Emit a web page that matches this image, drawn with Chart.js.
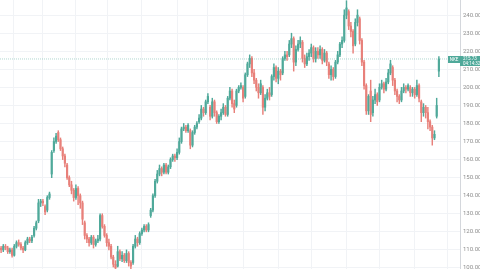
<!DOCTYPE html>
<html>
<head>
<meta charset="utf-8">
<script src="https://cdn.jsdelivr.net/npm/chart.js@4"></script>
<style>
  html, body { margin: 0; padding: 0; background: #fff; overflow: hidden; }
</style>
</head>
<body>
<canvas id="chart" width="480" height="269"></canvas>
<script>
// OHLC, one candle per session
const opens = [
  111,110,112,111,109,110,107,112,114,113,
  111,110,114,116,115,118,122,126,136,137,
  134,132,139,152,165,170,175,171,166,162,
  157,150,146,143,139,144,140,136,125,118,
  116,114,117,113,115,116,129,123,118,114,
  112,106,102,101,109,105,107,104,108,103,
  103,112,116,114,119,121,123,121,129,132,
  140,148,152,155,153,157,153,156,160,162,
  161,164,170,177,178,176,176,168,175,178,
  181,183,188,186,192,189,184,192,186,181,
  184,186,189,185,194,198,191,190,198,200,
  200,195,207,213,216,208,204,200,197,200,
  189,194,197,196,206,211,205,209,208,216,
  218,218,224,227,214,221,224,225,216,213,
  217,219,222,216,220,218,221,215,219,213,
  207,210,206,214,218,224,226,240,242,234,
  231,224,236,238,226,214,201,187,198,186,
  193,196,193,200,202,199,203,208,211,204,
  198,195,193,198,200,199,200,197,199,196,
  201,192,186,189,186,181,178,172,184,209
];
const closes = [
  110,112,111,109,110,107,112,114,113,111,
  110,114,116,115,117,122,125,136,137,136,
  131,139,141,164,170,173,171,166,162,158,
  150,146,143,139,144,140,136,127,118,116,
  114,117,113,115,116,129,123,118,114,112,
  106,102,100,109,105,107,104,108,103,101,
  112,116,114,119,121,123,121,124,132,140,
  148,152,155,153,157,153,156,160,162,161,
  164,170,177,178,176,179,168,175,178,180,
  183,188,186,192,195,184,192,186,181,184,
  186,189,185,194,198,191,188,198,200,201,
  194,207,213,216,208,204,200,197,202,189,
  194,197,195,206,211,205,209,207,216,218,
  217,224,227,214,221,224,226,216,213,217,
  219,222,216,220,218,221,215,219,214,207,
  210,206,214,218,224,226,240,244,234,231,
  223,236,240,226,214,201,187,195,185,193,
  196,192,200,202,199,203,208,213,204,198,
  195,193,198,200,199,201,197,199,196,201,
  194,186,189,186,181,178,172,174,190,215.73
];
const highs = [
  112,113,113,112,111,111,113,115,115.5,114,
  112,115,117,117,118,123,126,138,138,138,
  135,140,142,165,172,174.5,176,172,167,163,
  158,151,148,144,146,145,141,137,126,119,
  117,118,118,116,118,130,130,124,119,116,
  113,107,104,112,110,109,108,110,109,104,
  113,118,117,120,122,124,124,125,133,141,
  149,154,157,156,158,158,157,161,163,163,
  166,172,178,180,179,180,177,176,179,181,
  185,190,189,193,196.5,190,194,193,187,185,
  188,191,190,195,200,199,193,199,201,202.5,
  201,208,214,218,217,210,205,202,204,201,
  196,199,200,207,213,212,211,210,217,220,
  220,226,230,228,223,226,228,226,218,219,
  221,224,223,222,222,223,222,221,220,214,
  212,211,215,220,225,228,243,248,243,236,
  232,238,243,239,227,215,202,196,204,195,
  199,197,202,204,203,205,210,215,212,205,
  199,196,200,202,201,202,201,200,200,204,
  202,193,191,190,189,182,179,176,194,217
];
const lows = [
  108.5,109,110,108,108,106,106.5,111,112,110,
  108.5,109.5,113,114,114,117,121,125,134,134.5,
  129.5,131,138,150,164,169,170,165,160,156,
  149,145,141,137,138,135,133,124,116,114,
  112,113,111,112,114,115,122,117,112,110,
  105,100.5,99.6,100.5,104,103.5,103,103,101,99.5,
  102,111,112,113,118,120,120,120,128,131,
  139,147,151,151,152,152,152,155,159,159,
  160,163,169,176,175,175,166,167,174,177,
  180,182,184,185,191,182,183,184,180,180,
  182,185,184,184,193,189,186,189,197,199,
  192,194,206,211,206,202,198,194,196,185,
  187,193,193,195,204,203,202,204,207,215,
  215,217,222,209,212,220,222,214,211,212,
  215,217,214,214,216,216,213,214,212,205,
  204,204,205,213,217,222,225,238,232,228,
  219,223,234,224,212,199,185,185,181,184,
  191,190,192,199,197,198,202,207,201,196,
  192,191,192,197,197,198,195,195,194,195,
  192,181,184,183,177,176,168,171,183,206
];

const yTicks = [100, 110, 120, 130, 140, 150, 160, 170, 180, 190, 200, 210, 220, 230, 240];
const xGrid = [5.5, 19, 33.6, 48.2, 64, 80, 94, 110, 126, 141, 157, 172, 188, 203];
const symbol = 'NKE';
const countdown = '04:14:32';

const upColor = '#4fa99a';
const downColor = '#e8807a';
const gridColor = '#f1f3f6';

const lastPrice = closes[closes.length - 1];
const xMin = -0.5;
const xMax = 208.6;

const bodies = opens.map((o, i) => ({ x: i, y: [o, closes[i]] }));
const wicks = lows.map((l, i) => ({ x: i, y: [l, highs[i]] }));
const candleColor = ctx => closes[ctx.dataIndex] >= opens[ctx.dataIndex] ? upColor : downColor;

// price tag on the right axis, like the trading terminal does it
const priceTag = {
  id: 'priceTag',
  afterDraw(chart) {
    const { ctx, chartArea } = chart;
    const py = Math.round(chart.scales.y.getPixelForValue(lastPrice));
    ctx.save();
    ctx.fillStyle = upColor;
    ctx.fillRect(chartArea.right - 12, py - 3, 12, 7);
    ctx.fillRect(chartArea.right, py - 3, 20, 10);
    ctx.fillStyle = '#fff';
    ctx.textBaseline = 'middle';
    ctx.font = '4.5px Roboto';
    ctx.textAlign = 'center';
    ctx.fillText(symbol, chartArea.right - 6, py + 0.5);
    ctx.textAlign = 'left';
    ctx.fillText(lastPrice.toFixed(2), chartArea.right + 3, py);
    ctx.fillText(countdown, chartArea.right + 3, py + 5);
    ctx.restore();
  }
};

new Chart(document.getElementById('chart'), {
  type: 'bar',
  data: {
    datasets: [
      {
        type: 'line',
        data: [{ x: xMin, y: lastPrice }, { x: xMax, y: lastPrice }],
        borderColor: 'rgba(79,169,154,0.45)',
        borderWidth: 1,
        borderDash: [1, 1],
        pointRadius: 0,
        order: 0
      },
      {
        data: bodies,
        backgroundColor: candleColor,
        barThickness: 1.5,
        minBarLength: 1,
        grouped: false,
        order: 1
      },
      {
        data: wicks,
        backgroundColor: candleColor,
        barThickness: 0.8,
        grouped: false,
        order: 2
      }
    ]
  },
  options: {
    responsive: false,
    animation: false,
    devicePixelRatio: 1,
    layout: { padding: 0, autoPadding: false },
    plugins: { legend: { display: false }, tooltip: { enabled: false } },
    scales: {
      x: {
        type: 'linear',
        offset: false,
        min: xMin,
        max: xMax,
        afterBuildTicks: s => { s.ticks = xGrid.map(v => ({ value: v })); },
        afterFit: s => { s.height = 0; s.paddingLeft = 0; s.paddingRight = 0; },
        ticks: { display: false },
        grid: { color: gridColor, drawTicks: false, offset: false },
        border: { display: false }
      },
      y: {
        position: 'right',
        min: 99.4,
        max: 248.4,
        afterBuildTicks: s => { s.ticks = yTicks.map(v => ({ value: v })); },
        afterFit: s => { s.width = 20; s.paddingTop = 0; s.paddingBottom = 0; },
        ticks: {
          color: '#8d8d8d',
          font: { family: 'Roboto', size: 6 },
          padding: 3,
          callback: v => Number(v).toFixed(2)
        },
        grid: { color: gridColor, drawTicks: false },
        border: { color: '#d4d7dc' }
      }
    }
  },
  plugins: [priceTag]
});
</script>
</body>
</html>
